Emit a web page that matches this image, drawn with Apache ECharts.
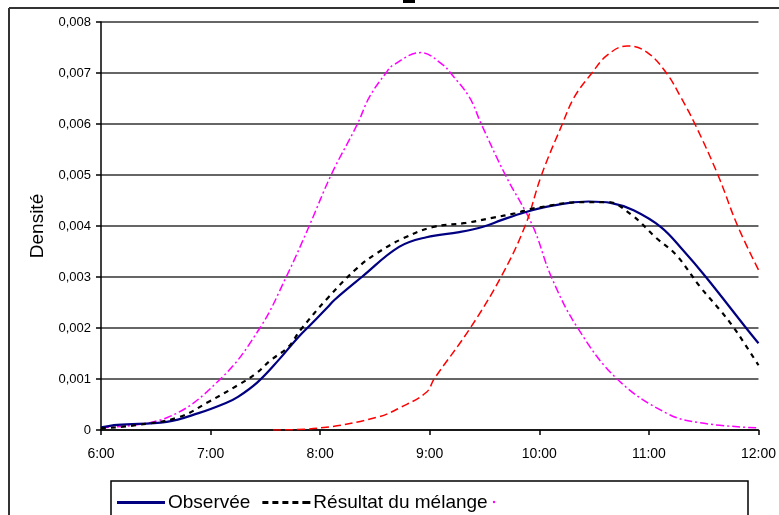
<!DOCTYPE html>
<html><head><meta charset="utf-8">
<script src="https://cdn.jsdelivr.net/npm/echarts@6/dist/echarts.min.js"></script>
<style>html,body{margin:0;padding:0;background:#fff}#c{width:779px;height:515px}</style>
</head><body><div id="c"></div>
<script>
const xTicks = ['6:00','7:00','8:00','9:00','10:00','11:00','12:00'];
const observee = [[6.0,0.00005],[6.15,0.0001],[6.6,0.00016],[6.89,0.00033],[7.14,0.00053],[7.25,0.00065],[7.43,0.00094],[7.62,0.00137],[7.80,0.00182],[7.91,0.00206],[8.07,0.00241],[8.13,0.00255],[8.38,0.003],[8.72,0.00359],[8.97,0.00378],[9.27,0.00388],[9.48,0.00398],[9.66,0.00412],[9.87,0.00427],[10.05,0.00437],[10.26,0.00445],[10.45,0.00448],[10.66,0.00445],[10.86,0.00431],[11.11,0.00398],[11.31,0.00353],[11.52,0.003],[11.88,0.00202],[12.0,0.0017]];
const melange = [[6.0,0.00003],[6.3,0.00009],[6.71,0.00025],[6.98,0.00055],[7.25,0.00088],[7.41,0.0011],[7.55,0.00137],[7.71,0.00163],[7.82,0.00196],[8.07,0.00259],[8.34,0.00318],[8.52,0.00347],[8.76,0.00376],[9.03,0.00398],[9.33,0.00406],[9.57,0.00416],[9.78,0.00425],[9.96,0.00435],[10.41,0.00447],[10.62,0.00447],[10.84,0.00422],[11.07,0.00376],[11.25,0.00343],[11.47,0.0028],[11.65,0.00235],[11.77,0.00202],[11.88,0.00167],[12.0,0.00127]];
const composante1 = [[6.0,0.00005],[6.6,0.00024],[7.09,0.001],[7.45,0.002],[7.69,0.003],[7.9,0.004],[8.1,0.005],[8.34,0.006],[8.45,0.00653],[8.6,0.007],[8.67,0.00716],[8.92,0.0074],[9.12,0.00716],[9.19,0.007],[9.36,0.00653],[9.47,0.006],[9.69,0.005],[9.94,0.004],[10.11,0.003],[10.35,0.002],[10.71,0.001],[11.16,0.00033],[11.47,0.00014],[12.0,0.00004]];
const composante2 = [[7.57,0.0],[8.0,0.00004],[8.52,0.00025],[8.74,0.00045],[8.97,0.00074],[9.04,0.001],[9.37,0.002],[9.65,0.003],[9.87,0.004],[10.02,0.005],[10.21,0.006],[10.32,0.00653],[10.48,0.007],[10.62,0.00735],[10.8,0.00753],[10.98,0.00741],[11.16,0.007],[11.29,0.00653],[11.42,0.006],[11.63,0.005],[11.81,0.004],[12.0,0.00314]];

const chart = echarts.init(document.getElementById('c'));
const font = 'Liberation Sans, Arial, sans-serif';
const solidIcon = 'path://M0,0h48v3h-48z';
const dashIcon = 'path://M0,0h6v3h-6z M10,0h6v3h-6z M20,0h6v3h-6z M30,0h6v3h-6z M40,0h8v3h-8z';
chart.setOption({
  animation: false,
  backgroundColor: '#fff',
  grid: {left: 101, right: 13, top: 22, bottom: 85},
  xAxis: {
    type: 'value', min: 6, max: 12, interval: 1,
    axisLine: {lineStyle: {color: '#000', width: 1.5}},
    axisTick: {show: true, length: 5, lineStyle: {color: '#000', width: 1.5}},
    axisLabel: {color: '#000', fontFamily: font, fontSize: 14, margin: 17,
      formatter: v => xTicks[Math.round(v - 6)]},
    splitLine: {show: false}
  },
  yAxis: {
    type: 'value', min: 0, max: 0.008, interval: 0.001,
    name: 'Densité', nameLocation: 'middle', nameGap: 50, nameRotate: 90,
    nameTextStyle: {color: '#000', fontFamily: font, fontSize: 19},
    axisLine: {show: true, lineStyle: {color: '#000', width: 1.5}},
    axisTick: {show: true, length: 5, lineStyle: {color: '#000', width: 1.5}},
    axisLabel: {color: '#000', fontFamily: font, fontSize: 13, margin: 10,
      formatter: v => v === 0 ? '0' : v.toFixed(3).replace('.', ',')},
    splitLine: {lineStyle: {color: '#333', width: 1.5}}
  },
  legend: {
    left: 117, top: 493, padding: 0, itemWidth: 48, itemHeight: 3, itemGap: 12,
    textStyle: {color: '#000', fontFamily: font, fontSize: 19, padding: [0, 0, 0, -2]},
    data: [{name: 'Observée', icon: solidIcon}, {name: 'Résultat du mélange', icon: dashIcon}]
  },
  series: [
    {name: 'Composante 1', type: 'line', data: composante1, smooth: 0.4, symbol: 'none',
      lineStyle: {color: '#ff00ff', width: 1.5, type: [8, 3, 2, 3]}, itemStyle: {color: '#ff00ff'}},
    {name: 'Composante 2', type: 'line', data: composante2, smooth: 0.4, symbol: 'none',
      lineStyle: {color: '#ff0000', width: 1.5, type: [8, 4]}, itemStyle: {color: '#ff0000'}},
    {name: 'Observée', type: 'line', data: observee, smooth: 0.4, symbol: 'none',
      lineStyle: {color: '#000080', width: 2.2}, itemStyle: {color: '#000080'}},
    {name: 'Résultat du mélange', type: 'line', data: melange, smooth: 0.4, symbol: 'none',
      lineStyle: {color: '#000', width: 2.2, type: [5, 5]}, itemStyle: {color: '#000'}}
  ],
  graphic: [
    {type: 'line', shape: {x1: 9, y1: 8, x2: 779, y2: 8}, style: {stroke: '#333', lineWidth: 2}},
    {type: 'line', shape: {x1: 9, y1: 8, x2: 9, y2: 515}, style: {stroke: '#333', lineWidth: 2}},
    {type: 'rect', shape: {x: 403, y: 0, width: 12, height: 3}, style: {fill: '#000'}},
    {type: 'rect', shape: {x: 111, y: 481, width: 637, height: 60}, style: {fill: 'none', stroke: '#000', lineWidth: 1.5}},
    {type: 'circle', shape: {cx: 494, cy: 502, r: 1.2}, style: {fill: '#ff00ff'}}
  ]
});
</script></body></html>
